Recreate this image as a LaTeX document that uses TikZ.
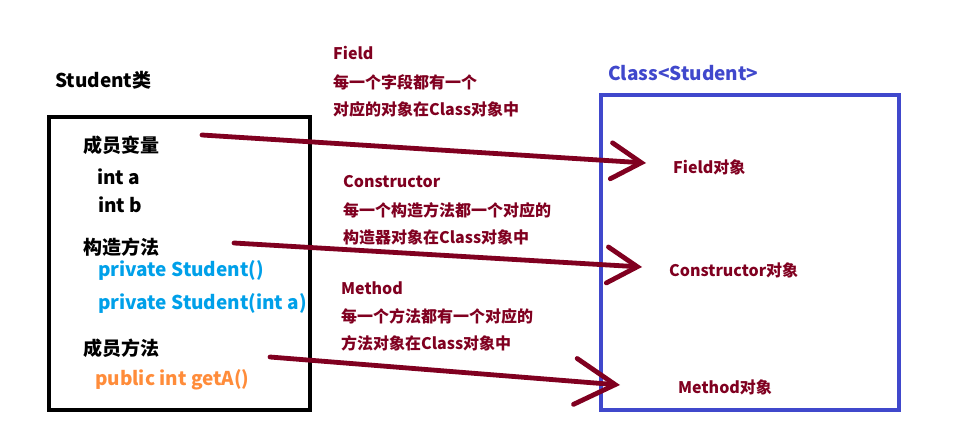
\documentclass[tikz,border=0pt]{standalone}
\usepackage{fontspec}
\setmainfont{Noto Sans CJK SC}
\usetikzlibrary{arrows.meta}
\definecolor{arrowred}{RGB}{128,0,32}
\definecolor{boxblue}{RGB}{64,72,204}
\definecolor{codecyan}{RGB}{0,160,233}
\definecolor{codeorange}{RGB}{255,140,58}
\tikzset{
  lbl/.style={anchor=west, inner sep=0pt, font=\bfseries\fontsize{19}{22}\selectfont},
  note/.style={anchor=west, inner sep=0pt, text=arrowred, font=\bfseries\fontsize{16}{19}\selectfont},
  conn/.style={draw=arrowred, line width=4.8pt, line cap=round, -{Straight Barb[length=30pt,width=36pt,line cap=round]}},
}
\begin{document}
\begin{tikzpicture}[x=1pt,y=-1pt]
\useasboundingbox (0,0) rectangle (965,441);
% boxes
\draw[line width=4pt] (49,117) rectangle (310,410);
\draw[draw=boxblue, line width=4.5pt] (601,95) rectangle (899,410);
% titles
\node[lbl] (stu) at (55,80) {Student类};
\node[lbl, text=boxblue] (cls) at (608,73) {Class<Student>};
% left contents
\node[lbl] (mv) at (83,145) {成员变量};
\node[lbl] (ia) at (97,177) {int a};
\node[lbl] (ib) at (98,205) {int b};
\node[lbl] (gz) at (83,247) {构造方法};
\node[lbl, text=codecyan] (p1) at (98,270) {private Student()};
\node[lbl, text=codecyan] (p2) at (98,303) {private Student(int a)};
\node[lbl] (mm) at (83,348) {成员方法};
\node[lbl, text=codeorange] (ga) at (95,380) {public int getA()};
% notes
\node[note] (n1) at (333,53) {Field};
\node[note] (n2) at (333,82) {每一个字段都有一个};
\node[note] (n3) at (333,109) {对应的对象在Class对象中};
\node[note] (n4) at (343,182) {Constructor};
\node[note] (n5) at (343,210) {每一个构造方法都一个对应的};
\node[note] (n6) at (343,237) {构造器对象在Class对象中};
\node[note] (n7) at (341,288) {Method};
\node[note] (n8) at (341,316) {每一个方法都有一个对应的};
\node[note] (n9) at (341,343) {方法对象在Class对象中};
% right objects
\node[note] (fo) at (673,167) {Field对象};
\node[note] (co) at (669,270) {Constructor对象};
\node[note] (mo) at (678,387) {Method对象};
% connector ends
\coordinate (s1) at (202,135);
\coordinate (e1) at (646,163);
\coordinate (s2) at (234,243);
\coordinate (e2) at (642,267);
\coordinate (s3) at (270,357);
\coordinate (e3) at (620,385);
\draw[conn] (s1) -- (e1);
\draw[conn] (s2) -- (e2);
\draw[conn, -{Straight Barb[length=40pt,width=46pt,line cap=round]}] (s3) -- (e3);
\end{tikzpicture}
\end{document}
